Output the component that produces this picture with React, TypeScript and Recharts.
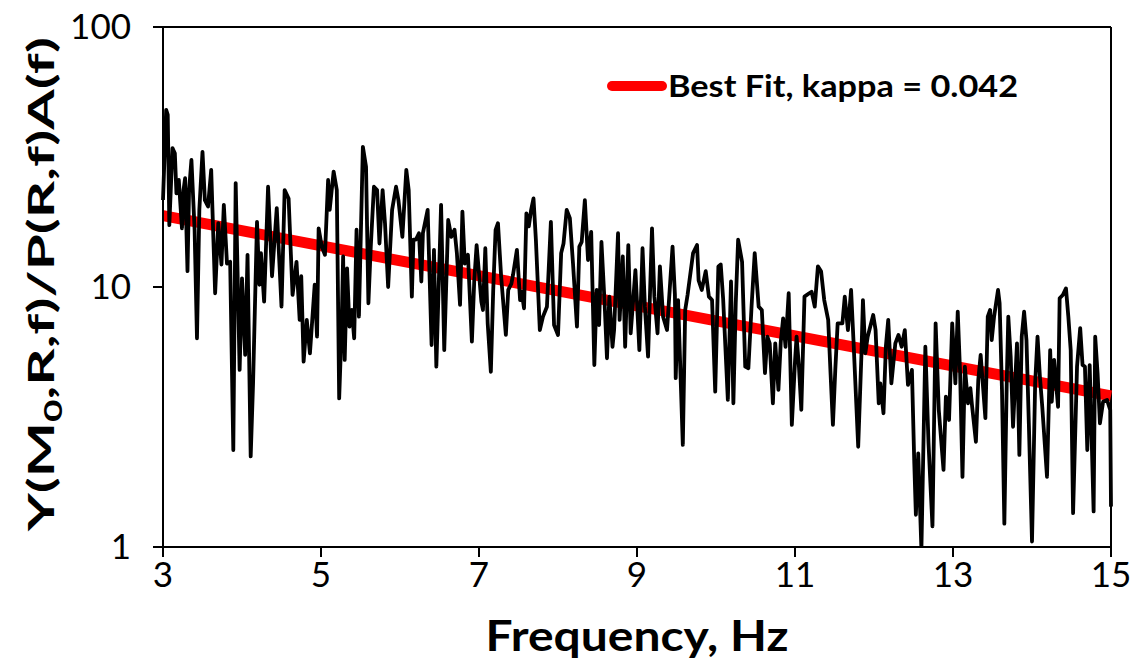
import React from "react";
import { LineChart, Line, XAxis, YAxis, ReferenceLine, Legend } from "recharts";

// frequency (Hz) of the measured ratio
const freq = [
  3.0, 3.04, 3.06, 3.08, 3.12, 3.15, 3.17, 3.2, 3.24, 3.26,
  3.28, 3.31, 3.33, 3.36, 3.4, 3.43, 3.46, 3.5, 3.53, 3.57,
  3.61, 3.66, 3.7, 3.74, 3.77, 3.81, 3.85, 3.89, 3.92, 3.97,
  4.0, 4.04, 4.07, 4.11, 4.14, 4.19, 4.22, 4.24, 4.28, 4.33,
  4.38, 4.44, 4.5, 4.54, 4.59, 4.64, 4.69, 4.73, 4.75, 4.78,
  4.82, 4.86, 4.92, 4.95, 4.97, 5.01, 5.05, 5.09, 5.11, 5.16,
  5.2, 5.23, 5.26, 5.28, 5.3, 5.33, 5.36, 5.39, 5.42, 5.45,
  5.48, 5.53, 5.57, 5.6, 5.63, 5.67, 5.71, 5.74, 5.78, 5.81,
  5.85, 5.9, 5.95, 5.98, 6.03, 6.08, 6.11, 6.15, 6.17, 6.2,
  6.24, 6.27, 6.29, 6.35, 6.4, 6.43, 6.46, 6.52, 6.56, 6.61,
  6.65, 6.69, 6.72, 6.76, 6.79, 6.82, 6.86, 6.91, 6.94, 6.97,
  7.03, 7.05, 7.08, 7.11, 7.15, 7.18, 7.21, 7.24, 7.28, 7.34,
  7.37, 7.41, 7.43, 7.48, 7.52, 7.54, 7.57, 7.6, 7.63, 7.66,
  7.69, 7.72, 7.77, 7.81, 7.86, 7.91, 7.95, 8.0, 8.04, 8.07,
  8.11, 8.15, 8.19, 8.24, 8.27, 8.3, 8.34, 8.38, 8.42, 8.46,
  8.49, 8.52, 8.55, 8.59, 8.62, 8.65, 8.69, 8.71, 8.76, 8.78,
  8.82, 8.85, 8.89, 8.92, 8.98, 9.03, 9.07, 9.1, 9.14, 9.19,
  9.22, 9.26, 9.29, 9.33, 9.38, 9.45, 9.48, 9.49, 9.52, 9.58,
  9.61, 9.64, 9.71, 9.76, 9.78, 9.82, 9.87, 9.91, 9.95, 9.99,
  10.03, 10.06, 10.09, 10.15, 10.19, 10.22, 10.25, 10.28, 10.33, 10.37,
  10.41, 10.45, 10.49, 10.54, 10.58, 10.62, 10.65, 10.68, 10.72, 10.75,
  10.79, 10.82, 10.85, 10.88, 10.92, 10.96, 11.0, 11.02, 11.05, 11.08,
  11.12, 11.18, 11.21, 11.25, 11.29, 11.33, 11.37, 11.42, 11.45, 11.48,
  11.51, 11.54, 11.6, 11.63, 11.67, 11.71, 11.74, 11.8, 11.84, 11.86,
  11.89, 11.92, 11.99, 12.02, 12.06, 12.08, 12.12, 12.15, 12.18, 12.22,
  12.27, 12.31, 12.35, 12.39, 12.43, 12.48, 12.51, 12.53, 12.56, 12.6,
  12.65, 12.69, 12.74, 12.78, 12.82, 12.88, 12.91, 12.95, 12.99, 13.03,
  13.06, 13.09, 13.12, 13.15, 13.19, 13.22, 13.24, 13.29, 13.32, 13.35,
  13.41, 13.44, 13.47, 13.49, 13.52, 13.57, 13.59, 13.62, 13.65, 13.68,
  13.7, 13.73, 13.76, 13.81, 13.84, 13.87, 13.9, 13.93, 13.96, 14.0,
  14.04, 14.07, 14.1, 14.13, 14.19, 14.23, 14.25, 14.28, 14.33, 14.35,
  14.39, 14.43, 14.46, 14.49, 14.52, 14.57, 14.61, 14.64, 14.67, 14.7,
  14.73, 14.78, 14.8, 14.83, 14.86, 14.9, 14.95, 14.99, 15.0,
];

// Y(M0,R,f)/P(R,f)A(f)
const ratio = [
  21.6, 48.0, 45.9, 17.3, 34.2, 32.7, 22.9, 25.8, 16.8, 23.6,
  26.2, 11.5, 23.6, 30.8, 16.6, 6.35, 19.8, 33.1, 21.6, 20.4,
  28.2, 9.46, 17.6, 12.2, 20.7, 12.3, 12.5, 2.36, 25.1, 4.8,
  10.8, 5.48, 13.3, 2.23, 4.26, 17.8, 10.2, 13.5, 8.78, 24.3,
  11.0, 20.1, 8.4, 23.6, 21.9, 9.32, 12.5, 7.47, 11.0, 5.16,
  7.47, 5.56, 10.2, 6.44, 16.8, 14.3, 13.3, 25.8, 19.8, 27.8,
  23.6, 3.73, 6.83, 13.1, 5.24, 11.8, 7.04, 8.16, 6.35, 16.6,
  7.69, 34.6, 29.0, 8.66, 14.3, 24.3, 23.6, 14.7, 23.6, 17.6,
  10.0, 19.8, 24.3, 21.6, 15.6, 28.2, 23.6, 9.18, 15.2, 15.2,
  16.1, 10.5, 16.1, 19.8, 5.98, 13.9, 4.94, 20.7, 5.72, 18.1,
  15.6, 16.6, 13.5, 8.53, 19.5, 12.3, 13.3, 6.16, 10.6, 14.5,
  8.78, 8.16, 14.1, 7.25, 4.72, 9.74, 16.6, 17.6, 11.0, 6.54,
  9.74, 10.3, 11.1, 13.9, 8.91, 9.59, 8.28, 19.2, 17.1, 19.8,
  21.9, 15.2, 6.83, 7.69, 8.4, 17.8, 7.14, 6.54, 13.5, 14.7,
  19.8, 18.4, 12.3, 7.04, 14.3, 14.9, 21.6, 12.7, 16.3, 5.01,
  9.74, 7.14, 14.9, 8.66, 5.32, 9.18, 5.89, 6.83, 16.1, 7.47,
  13.1, 5.89, 14.5, 6.64, 11.6, 5.72, 14.1, 8.4, 5.4, 16.8,
  9.18, 6.64, 12.0, 7.69, 6.83, 14.3, 9.32, 4.46, 8.91, 2.47,
  8.16, 9.32, 13.5, 14.5, 10.6, 9.74, 11.5, 9.18, 8.91, 3.96,
  12.0, 12.2, 9.05, 3.68, 10.5, 3.57, 8.66, 15.2, 12.5, 4.94,
  4.87, 8.4, 13.5, 8.4, 8.16, 4.66, 6.44, 6.07, 3.57, 6.07,
  4.02, 6.16, 7.58, 5.89, 9.46, 2.95, 5.16, 6.44, 4.94, 3.37,
  9.18, 9.46, 9.59, 8.4, 12.0, 11.5, 8.91, 7.47, 4.66, 2.95,
  4.8, 7.25, 7.25, 9.18, 6.83, 9.74, 6.25, 2.43, 5.4, 8.91,
  5.56, 6.44, 7.8, 6.83, 3.57, 4.26, 3.27, 5.89, 7.47, 4.26,
  6.07, 6.54, 5.89, 6.83, 4.2, 4.8, 2.1, 1.33, 2.29, 0.98,
  5.89, 2.51, 1.2, 7.25, 3.37, 1.98, 3.79, 3.08, 7.25, 4.26,
  8.04, 4.66, 1.86, 4.94, 3.57, 4.08, 3.52, 2.54, 4.39, 5.48,
  3.13, 7.69, 8.16, 6.25, 7.69, 9.74, 8.66, 4.02, 1.23, 4.26,
  7.69, 5.4, 2.9, 6.07, 2.26, 6.44, 8.04, 6.25, 2.99, 1.05,
  4.26, 6.44, 4.52, 3.46, 1.86, 5.72, 3.62, 5.24, 3.46, 9.05,
  9.32, 9.88, 7.69, 5.72, 1.35, 4.94, 6.94, 5.01, 4.94, 2.36,
  5.01, 1.37, 6.44, 4.66, 2.99, 3.62, 3.68, 3.37, 1.43,
];

// best fit endpoints (kappa = 0.042)
const fitFreq = [3, 15];
const fitRatio = [18.8, 3.81];
const fitLabel = "Best Fit, kappa = 0.042";

const xTicks = [3, 5, 7, 9, 11, 13, 15];
const yTicks = [1, 10, 100];

const spectrum = freq.map((f, i) => ({ f, v: ratio[i] }));
const fit = fitFreq.map((f, i) => ({ f, v: fitRatio[i] }));

const FONT = "Lato, 'Open Sans', sans-serif";
const tickStyle = { fontFamily: FONT, fontSize: 35, fill: "#000" };

const renderLegend = () => (
  <svg width={430} height={44} style={{ display: "block" }}>
    <line x1={12} y1={22} x2={62} y2={22} stroke="#ff0000" strokeWidth={10} strokeLinecap="round" />
    <text
      x={68}
      y={33}
      fontFamily={FONT}
      fontWeight={700}
      fontSize={30}
      fill="#000"
      textLength={350}
      lengthAdjust="spacingAndGlyphs"
    >
      {fitLabel}
    </text>
  </svg>
);

export default function App() {
  return (
    <div style={{ position: "absolute", left: 0, top: 0, width: 1136, height: 666, background: "#fff" }}>
      <LineChart width={1136} height={666} margin={{ top: 27, right: 25, bottom: 0, left: 0 }}>
        <XAxis
          dataKey="f"
          type="number"
          domain={[3, 15]}
          ticks={xTicks}
          allowDuplicatedCategory={false}
          height={119}
          stroke="#000"
          strokeWidth={2}
          tickSize={10}
          tickMargin={5}
          tick={tickStyle}
        />
        <YAxis
          dataKey="v"
          scale="log"
          type="number"
          domain={[1, 100]}
          ticks={yTicks}
          allowDataOverflow
          width={163}
          stroke="#000"
          strokeWidth={2}
          tickSize={10}
          tickMargin={22}
          tick={tickStyle}
        />
        <ReferenceLine y={100} stroke="#000" strokeWidth={2} />
        <ReferenceLine x={15} stroke="#000" strokeWidth={2} />
        <Line
          data={fit}
          dataKey="v"
          name={fitLabel}
          stroke="#ff0000"
          strokeWidth={11}
          dot={false}
          isAnimationActive={false}
          legendType="line"
        />
        <Line
          data={spectrum}
          dataKey="v"
          name="data"
          stroke="#000"
          strokeWidth={3.8}
          strokeLinejoin="round"
          dot={false}
          isAnimationActive={false}
          legendType="none"
        />
        <Legend
          layout="horizontal"
          verticalAlign="middle"
          align="center"
          content={renderLegend}
          wrapperStyle={{ position: "absolute", left: 600, top: 64, width: 430, height: 44 }}
        />
      </LineChart>
      <svg
        width={1136}
        height={666}
        style={{ position: "absolute", left: 0, top: 0, pointerEvents: "none" }}
      >
        <text
          x={637}
          y={651}
          textAnchor="middle"
          fontFamily={FONT}
          fontWeight={700}
          fontSize={42}
          textLength={303}
          lengthAdjust="spacingAndGlyphs"
        >
          Frequency, Hz
        </text>
        <text
          transform="translate(54,284) rotate(-90)"
          textAnchor="middle"
          fontFamily={FONT}
          fontWeight={700}
          fontSize={36}
          textLength={494}
          lengthAdjust="spacingAndGlyphs"
        >
          Y(M
          <tspan dy={8} fontSize={24}>0</tspan>
          <tspan dy={-8}>,R,f)/P(R,f)A(f)</tspan>
        </text>
      </svg>
    </div>
  );
}
